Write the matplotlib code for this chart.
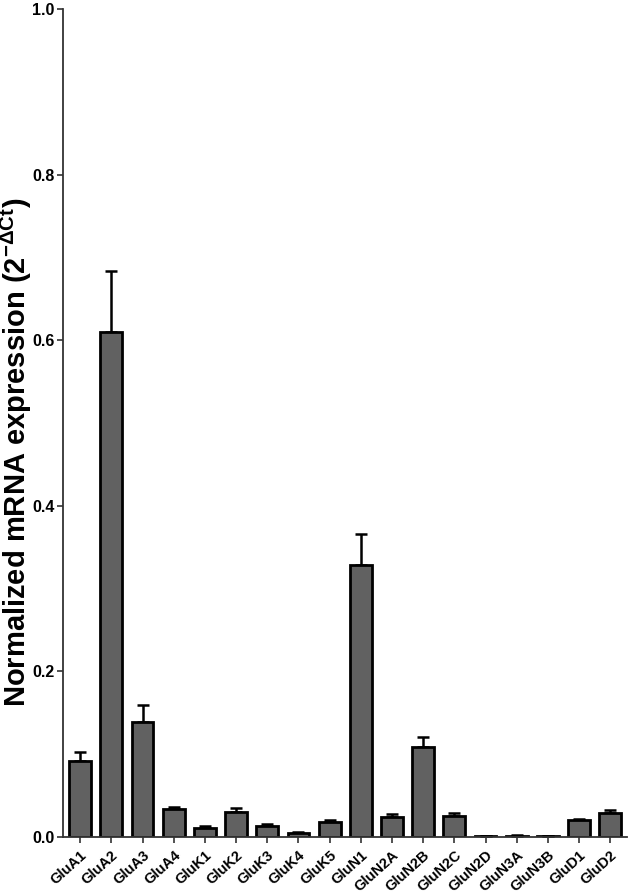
import numpy as np
import matplotlib
matplotlib.use("Agg")
from matplotlib import pyplot as plt

plt.rcParams['font.family'] = ['Liberation Sans', 'DejaVu Sans']
plt.rcParams['mathtext.fontset'] = 'custom'
plt.rcParams['mathtext.rm'] = 'Liberation Sans'
plt.rcParams['mathtext.bf'] = 'Liberation Sans:bold'

# subunits and mean expression (2^-dCt)
genes = ['GluA1', 'GluA2', 'GluA3', 'GluA4', 'GluK1', 'GluK2', 'GluK3', 'GluK4', 'GluK5',
         'GluN1', 'GluN2A', 'GluN2B', 'GluN2C', 'GluN2D', 'GluN3A', 'GluN3B', 'GluD1', 'GluD2']
expr = [0.092, 0.610, 0.139, 0.033, 0.011, 0.030, 0.013, 0.005, 0.018,
        0.328, 0.024, 0.108, 0.025, 0.001, 0.001, 0.0005, 0.020, 0.029]
sem = [0.011, 0.074, 0.020, 0.003, 0.002, 0.005, 0.003, 0.001, 0.002,
       0.038, 0.004, 0.012, 0.004, 0.0003, 0.001, 0.0002, 0.002, 0.003]

fig = plt.figure(figsize=(6.3, 8.94), dpi=100)
ax = fig.add_axes([0.1, 0.064, 0.895, 0.926])

x = np.arange(len(genes))
ax.bar(x, expr, width=0.7, color='#616161', edgecolor='black', linewidth=2, zorder=2)
ax.errorbar(x, expr, yerr=[np.zeros(len(sem)), sem], fmt='none', ecolor='black',
            elinewidth=1.8, capsize=4, capthick=1.8, zorder=1)

ax.set_xlim(-0.55, 17.53)
ax.set_ylim(0, 1.0)
ax.set_yticks([0.0, 0.2, 0.4, 0.6, 0.8, 1.0])
ax.set_yticklabels(['0.0', '0.2', '0.4', '0.6', '0.8', '1.0'], fontsize=11.5, fontweight='bold')
ax.set_xticks(x)
ax.set_xticklabels(genes, rotation=42, ha='right', rotation_mode='anchor', fontsize=10.5, fontweight='bold')
ax.tick_params(axis='both', direction='out', length=4, width=1.2, color='#333333', pad=2)
ax.tick_params(axis='x', pad=4)

for s in ['top', 'right']:
    ax.spines[s].set_visible(False)
for s in ['left', 'bottom']:
    ax.spines[s].set_linewidth(1.3)
    ax.spines[s].set_color('#333333')

ax.set_ylabel(r'Normalized mRNA expression (2$^{\mathbf{-\Delta Ct}}$)', fontsize=21, fontweight='bold',
              va='center')
ax.yaxis.set_label_coords(-0.082, 0.464)

fig.savefig('out.png', dpi=100)
